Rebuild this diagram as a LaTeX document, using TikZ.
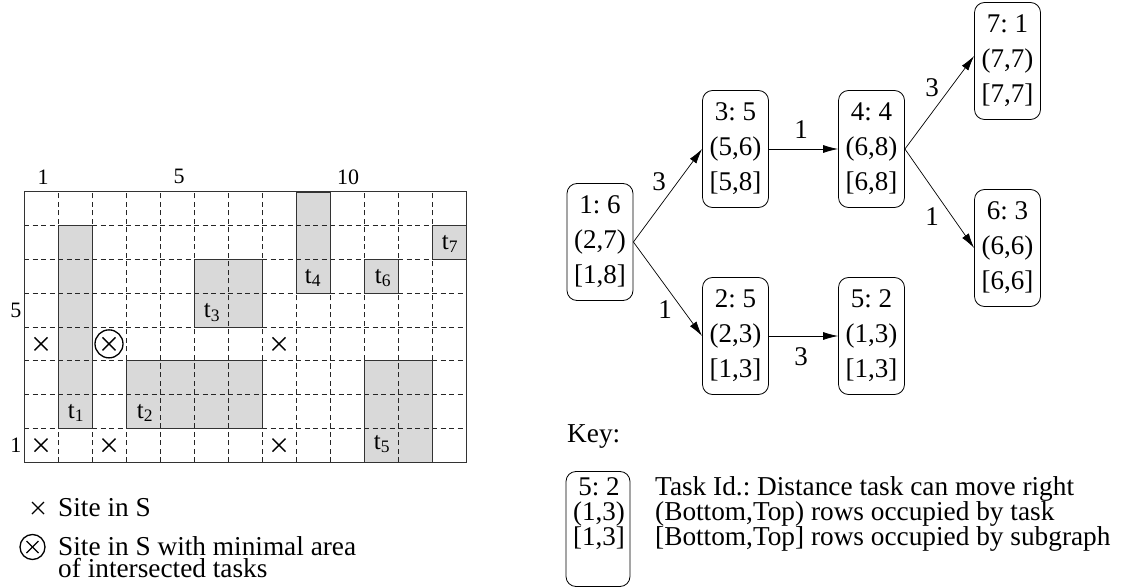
\documentclass[tikz,border=0pt]{standalone}
\usepackage{fontspec}
\setmainfont{Liberation Serif}
\usetikzlibrary{arrows.meta}
\frenchspacing
\tikzset{
  task/.style={fill=black!15},
  taskborder/.style={draw=black!80, line width=0.9bp},
  gridline/.style={draw=black!85, line width=0.8bp, dash pattern=on 5bp off 3.5bp},
  tnode/.style={draw, rounded corners=10bp, line width=0.8bp, minimum width=66bp, minimum height=117bp,
    align=center, inner sep=0pt, font=\fontsize{27bp}{35bp}\selectfont\frenchspacing},
  edge/.style={draw, line width=0.7bp, -{Latex[length=15bp,width=8bp]}},
  elabel/.style={font=\fontsize{27bp}{28bp}\selectfont, inner sep=0pt},
  glabel/.style={font=\fontsize{22bp}{22bp}\selectfont, inner sep=0pt},
  tlabel/.style={font=\fontsize{25bp}{25bp}\selectfont, inner sep=0pt},
  legtext/.style={font=\fontsize{27.3bp}{21.5bp}\selectfont\frenchspacing, inner sep=0pt, anchor=base west, align=left},
  site/.style={line width=1.3bp},
}
\begin{document}
\begin{tikzpicture}[x=1bp,y=-1bp]
\useasboundingbox (0,0) rectangle (1123,588);
% ---------- grid ----------
\begin{scope}[shift={(24,462)}, x=34bp, y=33.75bp]
  \fill[task] (1,1) rectangle (2,7);
  \fill[task] (3,1) rectangle (7,3);
  \fill[task] (5,4) rectangle (7,6);
  \fill[task] (8,5) rectangle (9,8);
  \fill[task] (10,0) rectangle (12,3);
  \fill[task] (10,5) rectangle (11,6);
  \fill[task] (12,6) rectangle (13,7);
  \foreach \i in {1,...,12} \draw[gridline] (\i,0) -- (\i,8);
  \foreach \j in {1,...,7} \draw[gridline] (0,\j) -- (13,\j);
  \draw[taskborder] (1,1) rectangle (2,7);
  \draw[taskborder] (3,1) rectangle (7,3);
  \draw[taskborder] (5,4) rectangle (7,6);
  \draw[taskborder] (8,5) rectangle (9,8);
  \draw[taskborder] (10,0) rectangle (12,3);
  \draw[taskborder] (10,5) rectangle (11,6);
  \draw[taskborder] (12,6) rectangle (13,7);
  \draw[line width=1bp, draw=black!80] (0,0) rectangle (13,8);
  \node[tlabel] (lt1) at (1.53,1.45) {t\textsubscript{1}};
  \node[tlabel] (lt2) at (3.56,1.45) {t\textsubscript{2}};
  \node[tlabel] (lt3) at (5.53,4.42) {t\textsubscript{3}};
  \node[tlabel] (lt4) at (8.5,5.45) {t\textsubscript{4}};
  \node[tlabel] (lt5) at (10.53,0.53) {t\textsubscript{5}};
  \node[tlabel] (lt6) at (10.56,5.45) {t\textsubscript{6}};
  \node[tlabel] (lt7) at (12.53,6.46) {t\textsubscript{7}};
  \node[glabel] (c1) at (0.56,8.45) {1};
  \node[glabel] (c5) at (4.56,8.45) {5};
  \node[glabel] (c10) at (9.53,8.45) {10};
  \node[glabel] (r5) at (-0.24,4.5) {5};
  \node[glabel] (r1) at (-0.24,0.5) {1};
  \coordinate (s1) at (0.5,3.5);
  \coordinate (s2) at (2.5,3.5);
  \coordinate (s3) at (7.5,3.5);
  \coordinate (s4) at (0.5,0.5);
  \coordinate (s5) at (2.5,0.5);
  \coordinate (s6) at (7.5,0.5);
\end{scope}
\foreach \s in {s1,s2,s3,s4,s5,s6} {
  \draw[site] ([shift={(-6.5bp,-6.5bp)}]\s) -- ([shift={(6.5bp,6.5bp)}]\s);
  \draw[site] ([shift={(-6.5bp,6.5bp)}]\s) -- ([shift={(6.5bp,-6.5bp)}]\s);
}
\draw[site] (s2) circle[radius=14bp];
% ---------- grid legend ----------
\coordinate (l1) at (38,508);
\draw[site] ([shift={(-6bp,-6bp)}]l1) -- ([shift={(6bp,6bp)}]l1);
\draw[site] ([shift={(-6bp,6bp)}]l1) -- ([shift={(6bp,-6bp)}]l1);
\node[legtext] (lg1) at (58,516) {Site in S};
\coordinate (l2) at (32.5,547);
\draw[site] ([shift={(-6bp,-6bp)}]l2) -- ([shift={(6bp,6bp)}]l2);
\draw[site] ([shift={(-6bp,6bp)}]l2) -- ([shift={(6bp,-6bp)}]l2);
\draw[site] (l2) circle[radius=12.5bp];
\node[legtext] (lg2) at (58,577) {Site in S with minimal area\\of intersected tasks};
% ---------- graph ----------
\node[tnode] (n1) at (600,242) {1: 6\\(2,7)\\{}[1,8]};
\node[tnode] (n3) at (735.5,149) {3: 5\\(5,6)\\{}[5,8]};
\node[tnode] (n2) at (735.5,336) {2: 5\\(2,3)\\{}[1,3]};
\node[tnode] (n4) at (871.5,149) {4: 4\\(6,8)\\{}[6,8]};
\node[tnode] (n5) at (871.5,336) {5: 2\\(1,3)\\{}[1,3]};
\node[tnode] (n7) at (1007.5,61) {7: 1\\(7,7)\\{}[7,7]};
\node[tnode] (n6) at (1007.5,248) {6: 3\\(6,6)\\{}[6,6]};
\draw[edge] (n1.east) -- (n3.west) node[elabel] (e13) at (659,182) {3};
\draw[edge] (n1.east) -- (n2.west) node[elabel] (e12) at (665,310) {1};
\draw[edge] (n3.east) -- (n4.west) node[elabel] (e34) at (801,130) {1};
\draw[edge] (n2.east) -- (n5.west) node[elabel] (e25) at (801,357) {3};
\draw[edge] (n4.east) -- ([yshift=5bp]n7.west) node[elabel] (e47) at (932,88) {3};
\draw[edge] (n4.east) -- (n6.west) node[elabel] (e46) at (932,217) {1};
% ---------- key ----------
\node[legtext] (key) at (567,442) {Key:};
\node[draw, rounded corners=10bp, line width=0.8bp, minimum width=64bp, minimum height=115bp, inner sep=0pt] (kbox) at (598,529) {};
\node[font=\fontsize{27bp}{25bp}\selectfont\frenchspacing, align=center, anchor=base, inner sep=0pt] (ktext) at (599,545) {5: 2\\(1,3)\\{}[1,3]};
\node[legtext] (k1) at (655,495) {Task Id.: Distance task can move right};
\node[legtext] (k2) at (655,520) {(Bottom,Top) rows occupied by task};
\node[legtext] (k3) at (655,545) {[Bottom,Top] rows occupied by subgraph};
\end{tikzpicture}
\end{document}
